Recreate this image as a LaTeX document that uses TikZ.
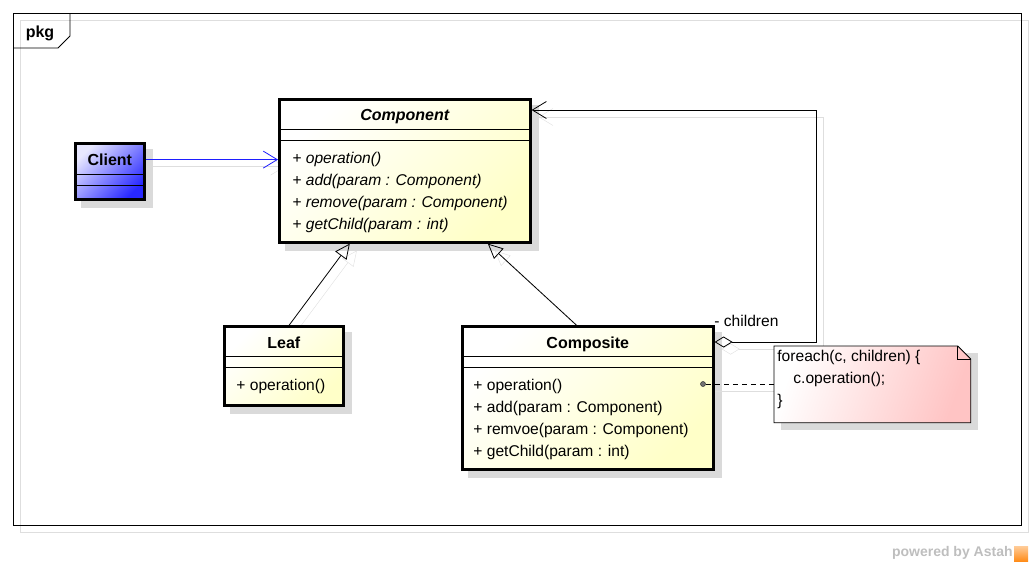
\documentclass[tikz,border=0pt]{standalone}
\usepackage{fontspec}
\setmainfont{Liberation Sans}
\usetikzlibrary{arrows.meta,positioning,backgrounds}

\definecolor{classyellow}{RGB}{255,255,200}
\definecolor{clientlight}{RGB}{232,232,255}
\definecolor{clientblue}{RGB}{40,40,255}
\definecolor{notepink}{RGB}{255,196,196}
\definecolor{shadowgray}{RGB}{218,218,218}
\definecolor{shadowline}{RGB}{222,222,222}
\definecolor{linkblue}{RGB}{30,30,255}
\definecolor{markgray}{RGB}{190,190,190}

\tikzset{
  classbox/.style={draw, line width=2.6pt, anchor=north west, inner sep=0pt,
    top color=white, bottom color=classyellow, shading angle=45},
  clientbox/.style={classbox, top color=clientlight, bottom color=clientblue, shading angle=45},
  classname/.style={font=\fontsize{16}{18}\selectfont\bfseries},
  oplist/.style={anchor=north west, align=left, inner sep=0pt,
    font=\fontsize{15.6}{22}\selectfont},
  sepline/.style={line width=0.8pt},
  boxshadow/.style={fill=shadowgray},
}

\begin{document}
\begin{tikzpicture}[x=1pt, y=-1pt, line width=0.8pt]
\useasboundingbox (0,0) rectangle (1033,566);
% Specification of nodes (position, etc.)

\node (pkg)                 [draw, anchor=north west, inner sep=0pt, minimum width=1008pt, minimum height=512pt] at (13,13) {};
\node (pkg-label)           [font=\fontsize{16}{18}\selectfont\bfseries] at (40,33) {pkg};

\node (client)              [clientbox, minimum width=69pt, minimum height=56pt] at (74,142) {};
\node (client-name)         [classname, below=8pt of client.north] {Client};

\node (component)           [classbox, minimum width=251pt, minimum height=143pt] at (278,98) {};
\node (component-name)      [classname, font=\fontsize{16}{18}\selectfont\bfseries\itshape, below=8pt of component.north] {Component};
\node (component-ops)       [oplist, font=\fontsize{15.6}{22}\selectfont\itshape] at (292,152) {+ operation()\\+ add(param : Component)\\+ remove(param : Component)\\+ getChild(param : int)};

\node (leaf)                [classbox, minimum width=119pt, minimum height=79pt] at (223,325) {};
\node (leaf-name)           [classname, below=8pt of leaf.north] {Leaf};
\node (leaf-ops)            [oplist] at (236,379) {+ operation()};

\node (composite)           [classbox, minimum width=251pt, minimum height=143pt] at (461,325) {};
\node (composite-name)      [classname, below=8pt of composite.north] {Composite};
\node (composite-ops)       [oplist] at (473,379) {+ operation()\\+ add(param : Component)\\+ remvoe(param : Component)\\+ getChild(param : int)};

% note with folded corner
\node (note)                [anchor=north west, inner sep=0pt, minimum width=196pt, minimum height=76pt] at (774,346) {};
\path[draw, top color=white, bottom color=notepink, shading angle=70]
  (note.north west) -- ([xshift=-13pt]note.north east) -- ([yshift=-13pt]note.north east)
  -- (note.south east) -- (note.south west) -- cycle;
\draw ([xshift=-13pt]note.north east) |- ([yshift=-13pt]note.north east);
\node (note-text)           [oplist] at (777,350) {foreach(c, children) \{\\\hspace{16pt}c.operation();\\\}};

\node (op-dot)              [circle, draw=black!80, fill=black!55, inner sep=0pt, minimum size=5pt, line width=0.5pt] at (703,384) {};
\node (children-label)      [anchor=west, inner sep=0pt, font=\fontsize{15.6}{18}\selectfont] at (714,321) {- children};
\coordinate (children-turn) at (816,230);

\node (powered)             [anchor=east, inner sep=0pt, text=markgray, font=\fontsize{14}{16}\selectfont\bfseries] at (1013,553) {powered by Astah};

% compartments
\draw[sepline] ([yshift=-32pt]client.north west) -- ([yshift=-32pt]client.north east);
\draw[sepline] ([yshift=-43pt]client.north west) -- ([yshift=-43pt]client.north east);
\draw[sepline] ([yshift=-31pt]component.north west) -- ([yshift=-31pt]component.north east);
\draw[sepline] ([yshift=-42pt]component.north west) -- ([yshift=-42pt]component.north east);
\draw[sepline] ([yshift=-31pt]leaf.north west) -- ([yshift=-31pt]leaf.north east);
\draw[sepline] ([yshift=-42pt]leaf.north west) -- ([yshift=-42pt]leaf.north east);
\draw[sepline] ([yshift=-31pt]composite.north west) -- ([yshift=-31pt]composite.north east);
\draw[sepline] ([yshift=-42pt]composite.north west) -- ([yshift=-42pt]composite.north east);

% package tab
\draw ([yshift=-35pt]pkg.north west) -- ++(45,0) -- ++(12,-12) -- ++(0,-23);

% logo
\shade[top color=orange!40, bottom color=orange!90] (1014,546) rectangle (1028,561);

% connectors
\draw[linkblue, -{Straight Barb[length=14pt, width=17pt]}] (client.east |- client-name) -- (component.west |- client-name);
\draw[-{Triangle[open, length=15pt, width=14pt]}] ([xshift=5.5pt]leaf.north) -- ([xshift=-55pt]component.south);
\draw[-{Triangle[open, length=15pt, width=14pt]}] ([xshift=-11.5pt]composite.north) -- ([xshift=83pt]component.south);
\draw[{Diamond[open, length=18pt, width=11pt]}-{Straight Barb[length=14pt, width=17pt]}] ([yshift=-17pt]composite.north east) -| (children-turn) |- ([yshift=-12pt]component.north east);
\draw[dashed, dash pattern=on 5pt off 4pt] (op-dot) -- (note.west |- op-dot);

% shadows
\begin{scope}[on background layer]
\draw[shadowline] (20,20) rectangle (1028,532);
\fill[boxshadow] ([shift={(7pt,-7pt)}]client.north west) rectangle ([shift={(7pt,-7pt)}]client.south east);
\fill[boxshadow] ([shift={(7pt,-7pt)}]component.north west) rectangle ([shift={(7pt,-7pt)}]component.south east);
\fill[boxshadow] ([shift={(7pt,-7pt)}]leaf.north west) rectangle ([shift={(7pt,-7pt)}]leaf.south east);
\fill[boxshadow] ([shift={(7pt,-7pt)}]composite.north west) rectangle ([shift={(7pt,-7pt)}]composite.south east);
\fill[boxshadow] ([shift={(7pt,-7pt)}]note.north west) rectangle ([shift={(7pt,-7pt)}]note.south east);
\begin{scope}[transform canvas={shift={(7pt,-7pt)}}, shadowline]
\draw[-{Straight Barb[length=14pt, width=17pt]}] (client.east |- client-name) -- (component.west |- client-name);
\draw[-{Triangle[open, length=15pt, width=14pt]}] ([xshift=5.5pt]leaf.north) -- ([xshift=-55pt]component.south);
\draw[-{Triangle[open, length=15pt, width=14pt]}] ([xshift=-11.5pt]composite.north) -- ([xshift=83pt]component.south);
\draw[{Diamond[open, length=18pt, width=11pt]}-{Straight Barb[length=14pt, width=17pt]}] ([yshift=-17pt]composite.north east) -| (children-turn) |- ([yshift=-12pt]component.north east);
\draw (op-dot) -- (note.west |- op-dot);
\end{scope}
\end{scope}

\end{tikzpicture}
\end{document}
